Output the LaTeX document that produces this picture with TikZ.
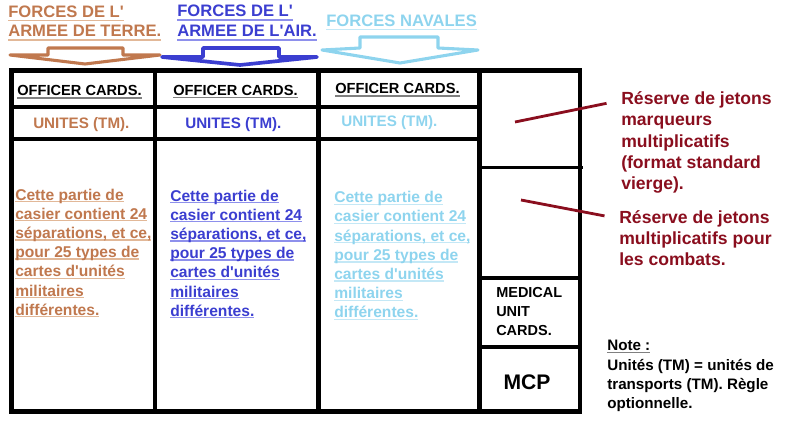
\documentclass[tikz,border=0pt]{standalone}
\usepackage{fontspec}
\setmainfont{Liberation Sans}
\usepackage{tikz}
\definecolor{terre}{HTML}{C0784E}
\definecolor{terreul}{HTML}{E2B898}
\definecolor{air}{HTML}{3B3ED0}
\definecolor{airul}{HTML}{8E90EC}
\definecolor{navale}{HTML}{8ED4EE}
\definecolor{navaleul}{HTML}{C4E8F6}
\definecolor{reserve}{HTML}{8A0E1E}
\newcommand{\undr}[3]{\setbox0\hbox{#3}\rlap{\color{#1}\rule[#2]{\wd0}{1pt}}\box0}
\tikzset{frame/.style={line width=3.5pt},
  rowline/.style={line width=2.8pt},
  thinrow/.style={line width=2pt},
  blkarrow/.style={line width=2.2pt,fill=white,line join=round},
  lead/.style={line width=2pt,reserve,shorten >=10.5pt},
  lbl/.style={inner sep=0pt,anchor=base west},
  ttl/.style={font=\fontsize{11.8}{14}\selectfont\bfseries},
  head/.style={font=\fontsize{10.4}{13}\selectfont\bfseries},
  unit/.style={font=\fontsize{10.8}{13}\selectfont\bfseries},
  body/.style={font=\fontsize{11.1}{13}\selectfont\bfseries},
  rouge/.style={font=\fontsize{12.5}{15}\selectfont\bfseries,text=reserve},
  note/.style={font=\fontsize{10.8}{13}\selectfont\bfseries},
  med/.style={font=\fontsize{10.3}{13}\selectfont\bfseries}}

\begin{document}
\begin{tikzpicture}[x=0.025cm,y=-0.025cm]

	  \useasboundingbox (0,0) rectangle (800,439);

	  % titres
	  \node [lbl,ttl,text=terre] (terreA) at (8,17.5) {\undr{terreul}{-2.5pt}{FORCES DE L\textquotesingle}};
	  \node [lbl,ttl,text=terre] (terreB) at (8,37) {\undr{terreul}{-2.5pt}{ARMEE DE TERRE.}};
	  \node [lbl,ttl,text=air] (airA) at (177,17) {\undr{airul}{-2.5pt}{FORCES DE L\textquotesingle}};
	  \node [lbl,ttl,text=air] (airB) at (177,37) {\undr{airul}{-2.5pt}{ARMEE DE L\textquotesingle AIR.}};
	  \node [lbl,ttl,text=navale] (navA) at (326,26.7) {\undr{navaleul}{-2.5pt}{FORCES NAVALES}};

	  \draw [blkarrow,draw=terre] (48,48) -- (123,48) -- (123,55) -- (160,55) -- (85,64) -- (10,55) -- (48,55) -- cycle;
	  \draw [blkarrow,draw=air,line width=2.6pt] (203,48) -- (279,48) -- (279,57) -- (317,57) -- (240,65) -- (162,57) -- (203,57) -- cycle;
	  \draw [blkarrow,draw=navale] (360,37) -- (438,37) -- (438,48) -- (478,50) -- (400,63) -- (322,50) -- (360,48) -- cycle;

	  % casier
	  \draw [frame] (11.5,70.5) rectangle (580,411.5);
	  \draw [frame] (155,70.5) -- (155,411.5);
	  \draw [frame] (318.5,70.5) -- (318.5,411.5);
	  \draw [frame] (479.5,70.5) -- (479.5,411.5);
	  \draw [rowline] (11.5,107) -- (479.5,107);
	  \draw [rowline] (11.5,139) -- (479.5,139);
	  \draw [thinrow] (479.5,167.5) -- (583,167.5);
	  \draw [rowline] (479.5,278) -- (580,278);
	  \draw [rowline] (479.5,347) -- (580,347);

	  \node [lbl,head] (offA) at (17,96) {\undr{gray}{-1.8pt}{OFFICER CARDS.}};
	  \node [lbl,head] (offB) at (173,95.7) {\undr{gray}{-1.8pt}{OFFICER CARDS.}};
	  \node [lbl,head] (offC) at (335,94) {\undr{gray}{-1.8pt}{OFFICER CARDS.}};

	  \node [lbl,unit,text=terre] (uniA) at (33,129) {UNITES (TM).};
	  \node [lbl,unit,text=air] (uniB) at (185,129) {UNITES (TM).};
	  \node [lbl,unit,text=navale] (uniC) at (341,126.7) {UNITES (TM).};

	  % texte du casier
	  \node [lbl,body,text=terre] (terC1) at (15,200) {\undr{terreul}{-1.6pt}{Cette partie de}};
	  \node [lbl,body,text=terre] (terC2) at (15,219.2) {\undr{terreul}{-1.6pt}{casier contient 24}};
	  \node [lbl,body,text=terre] (terC3) at (15,238.4) {\undr{terreul}{-1.6pt}{séparations, et ce,}};
	  \node [lbl,body,text=terre] (terC4) at (15,257.6) {\undr{terreul}{-1.6pt}{pour 25 types de}};
	  \node [lbl,body,text=terre] (terC5) at (15,276.8) {\undr{terreul}{-1.6pt}{cartes d\textquotesingle unités}};
	  \node [lbl,body,text=terre] (terC6) at (15,296) {\undr{terreul}{-1.6pt}{militaires}};
	  \node [lbl,body,text=terre] (terC7) at (15,315.2) {\undr{terreul}{-1.6pt}{différentes.}};

	  \node [lbl,body,text=air] (airC1) at (170,201) {\undr{airul}{-1.6pt}{Cette partie de}};
	  \node [lbl,body,text=air] (airC2) at (170,220.2) {\undr{airul}{-1.6pt}{casier contient 24}};
	  \node [lbl,body,text=air] (airC3) at (170,239.4) {\undr{airul}{-1.6pt}{séparations, et ce,}};
	  \node [lbl,body,text=air] (airC4) at (170,258.6) {\undr{airul}{-1.6pt}{pour 25 types de}};
	  \node [lbl,body,text=air] (airC5) at (170,277.8) {\undr{airul}{-1.6pt}{cartes d\textquotesingle unités}};
	  \node [lbl,body,text=air] (airC6) at (170,297) {\undr{airul}{-1.6pt}{militaires}};
	  \node [lbl,body,text=air] (airC7) at (170,316.2) {\undr{airul}{-1.6pt}{différentes.}};

	  \node [lbl,body,text=navale] (navC1) at (334,202.7) {\undr{navaleul}{-1.6pt}{Cette partie de}};
	  \node [lbl,body,text=navale] (navC2) at (334,221.9) {\undr{navaleul}{-1.6pt}{casier contient 24}};
	  \node [lbl,body,text=navale] (navC3) at (334,241.1) {\undr{navaleul}{-1.6pt}{séparations, et ce,}};
	  \node [lbl,body,text=navale] (navC4) at (334,260.3) {\undr{navaleul}{-1.6pt}{pour 25 types de}};
	  \node [lbl,body,text=navale] (navC5) at (334,279.5) {\undr{navaleul}{-1.6pt}{cartes d\textquotesingle unités}};
	  \node [lbl,body,text=navale] (navC6) at (334,298.7) {\undr{navaleul}{-1.6pt}{militaires}};
	  \node [lbl,body,text=navale] (navC7) at (334,317.9) {\undr{navaleul}{-1.6pt}{différentes.}};

	  \node [lbl,med] (medA) at (496,297.3) {MEDICAL};
	  \node [lbl,med] (medB) at (496,316.5) {UNIT};
	  \node [lbl,med] (medC) at (496,335.7) {CARDS.};
	  \node [anchor=base,inner sep=0pt,font=\fontsize{15}{18}\selectfont\bfseries] (mcp) at (527,389) {MCP};

	  % reserves
	  \node [lbl,rouge] (resA1) at (621,105) {Réserve de jetons};
	  \node [lbl,rouge] (resA2) at (621,126) {marqueurs};
	  \node [lbl,rouge] (resA3) at (621,147) {multiplicatifs};
	  \node [lbl,rouge] (resA4) at (621,168) {(format standard};
	  \node [lbl,rouge] (resA5) at (621,189) {vierge).};
	  \node [lbl,rouge] (resB1) at (619,223.3) {Réserve de jetons};
	  \node [lbl,rouge] (resB2) at (619,244.2) {multiplicatifs pour};
	  \node [lbl,rouge] (resB3) at (619,265) {les combats.};

	  \coordinate (potA) at (515,122);
	  \coordinate (potB) at (521,200);
	  \draw [lead] (potA) -- (resA1.west);
	  \draw [lead] (potB) -- (resB1.west);

	  \node [lbl,note] (noteA) at (607,350.7) {\undr{gray}{-1.8pt}{Note :}};
	  \node [lbl,note] (noteB) at (607,370) {Unités (TM) = unités de};
	  \node [lbl,note] (noteC) at (607,389) {transports (TM). Règle};
	  \node [lbl,note] (noteD) at (607,408) {optionnelle.};

\end{tikzpicture}
\end{document}
